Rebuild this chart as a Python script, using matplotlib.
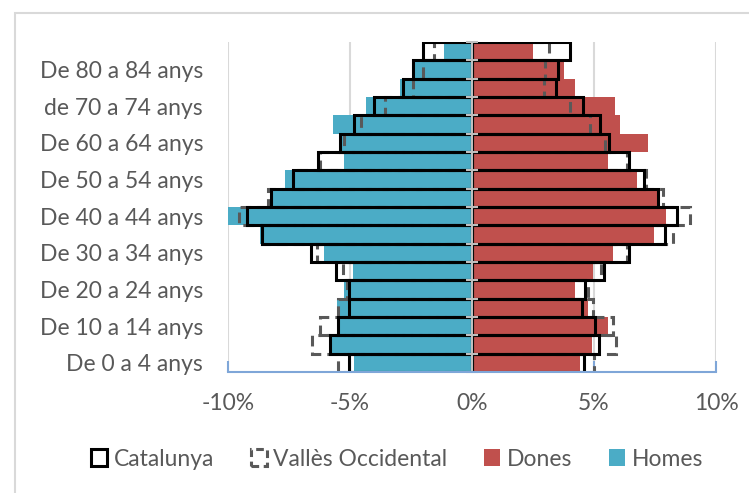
import numpy as np
import matplotlib
matplotlib.use("Agg")
import matplotlib.pyplot as plt
from matplotlib.patches import Patch, Rectangle

plt.rcParams['font.family'] = ['Lato', 'DejaVu Sans']

# Age groups, bottom to top
age_labels = ["De 0 a 4 anys", "De 5 a 9 anys", "De 10 a 14 anys", "De 15 a 19 anys",
              "De 20 a 24 anys", "De 25 a 29 anys", "De 30 a 34 anys", "De 35 a 39 anys",
              "De 40 a 44 anys", "De 45 a 49 anys", "De 50 a 54 anys", "De 55 a 59 anys",
              "De 60 a 64 anys", "De 65 a 69 anys", "de 70 a 74 anys", "De 75 a 79 anys",
              "De 80 a 84 anys", "De 85 anys i més"]

# % of each sex
homes = [4.82, 5.81, 5.51, 5.53, 5.23, 4.89, 6.08, 8.68, 10.0,
         8.24, 7.65, 5.23, 5.42, 5.70, 4.33, 2.95, 2.36, 1.16]
dones = [4.44, 4.92, 5.56, 4.77, 4.24, 4.95, 5.79, 7.47, 7.95,
         7.58, 6.75, 5.56, 7.20, 6.08, 5.87, 4.24, 3.76, 2.48]
cat_homes = [5.03, 5.81, 5.51, 5.03, 5.03, 5.57, 6.60, 8.62, 9.22,
             8.24, 7.35, 6.32, 5.42, 4.82, 4.00, 2.81, 2.43, 2.00]
cat_dones = [4.58, 5.22, 5.04, 4.52, 4.63, 5.40, 6.42, 7.91, 8.39,
             7.61, 7.06, 6.45, 5.63, 5.23, 4.56, 3.46, 3.51, 4.02]
valles_homes = [5.51, 6.57, 6.22, 5.48, 5.12, 5.30, 6.35, 8.60, 9.54,
                8.38, 7.35, 6.23, 5.23, 4.54, 3.57, 2.42, 2.02, 1.57]
valles_dones = [5.01, 5.90, 5.77, 4.95, 4.74, 5.29, 6.34, 8.22, 8.95,
                7.84, 7.14, 6.34, 5.45, 4.85, 4.03, 2.94, 3.00, 3.14]

x_ticks = [-10, -5, 0, 5, 10]

BLUE = '#4BACC6'
RED = '#C0504D'
TEXT = '#595959'
GRID = '#D9D9D9'
AXBLUE = '#7FA6D8'
FS = 16.5

y = np.arange(len(age_labels))

fig = plt.figure(figsize=(7.49, 4.93), dpi=100)
# light border of the chart area
fig.patches.append(Rectangle((15 / 749, -0.1), 1.2, 1 - 13 / 493 + 0.1,
                             transform=fig.transFigure, fill=False,
                             edgecolor=GRID, linewidth=1.5))

ax = fig.add_axes([228 / 749, 1 - 372 / 493, 488 / 749, 330 / 493])

for xv in x_ticks:
    if xv != 0:
        ax.axvline(xv, color=GRID, lw=1.5, zorder=0)

ax.barh(y, -np.array(homes), height=1.0, color=BLUE, zorder=2)
ax.barh(y, dones, height=1.0, color=RED, zorder=2)

dash = (0, (3.5, 2))
ax.barh(y, -np.array(valles_homes), height=1.0, fill=False, edgecolor=TEXT,
        linestyle=dash, linewidth=2.2, zorder=3)
ax.barh(y, valles_dones, height=1.0, fill=False, edgecolor=TEXT,
        linestyle=dash, linewidth=2.2, zorder=3)

ax.barh(y, -np.array(cat_homes), height=1.0, fill=False, edgecolor='black',
        linewidth=2.2, zorder=4)
ax.barh(y, cat_dones, height=1.0, fill=False, edgecolor='black',
        linewidth=2.2, zorder=4)

# vertical category axis at zero with boundary tick marks
ax.axvline(0, color='#BFBFBF', lw=1.5, zorder=5)
bounds = np.arange(len(age_labels) + 1) - 0.5
ax.plot(np.zeros_like(bounds), bounds, linestyle='none', marker='_',
        markersize=8, markeredgewidth=1.5, color='#BFBFBF', zorder=5, clip_on=False)

ax.set_xlim(-10, 10)
ax.set_ylim(-0.5, len(age_labels) - 0.5)

ax.set_yticks(y[::2])
ax.set_yticklabels(age_labels[::2], fontsize=FS, color=TEXT)
ax.tick_params(axis='y', length=0, pad=18)

ax.set_xticks(x_ticks)
ax.set_xticklabels([f"{v}%" for v in x_ticks], fontsize=FS, color=TEXT)
ax.tick_params(axis='x', direction='in', length=8, width=1.5, color=AXBLUE, pad=15)

for side in ['top', 'right', 'left']:
    ax.spines[side].set_visible(False)
ax.spines['bottom'].set_color(AXBLUE)
ax.spines['bottom'].set_linewidth(1.5)
ax.spines['bottom'].set_zorder(6)

handles = [
    Patch(facecolor='white', edgecolor='black', linewidth=2.2, label='Catalunya'),
    Patch(facecolor='white', edgecolor=TEXT, linewidth=2.2, linestyle=(0, (2.5, 1.5)),
          label='Vallès Occidental'),
    Patch(facecolor=RED, label='Dones'),
    Patch(facecolor=BLUE, label='Homes'),
]
leg = fig.legend(handles=handles, loc='center', bbox_to_anchor=(397 / 749, 1 - 459 / 493),
                 ncol=4, frameon=False, fontsize=FS, handlelength=0.7, handleheight=0.7,
                 handletextpad=0.3, columnspacing=1.6)
for t in leg.get_texts():
    t.set_color(TEXT)

fig.savefig('out.png', dpi=100)
